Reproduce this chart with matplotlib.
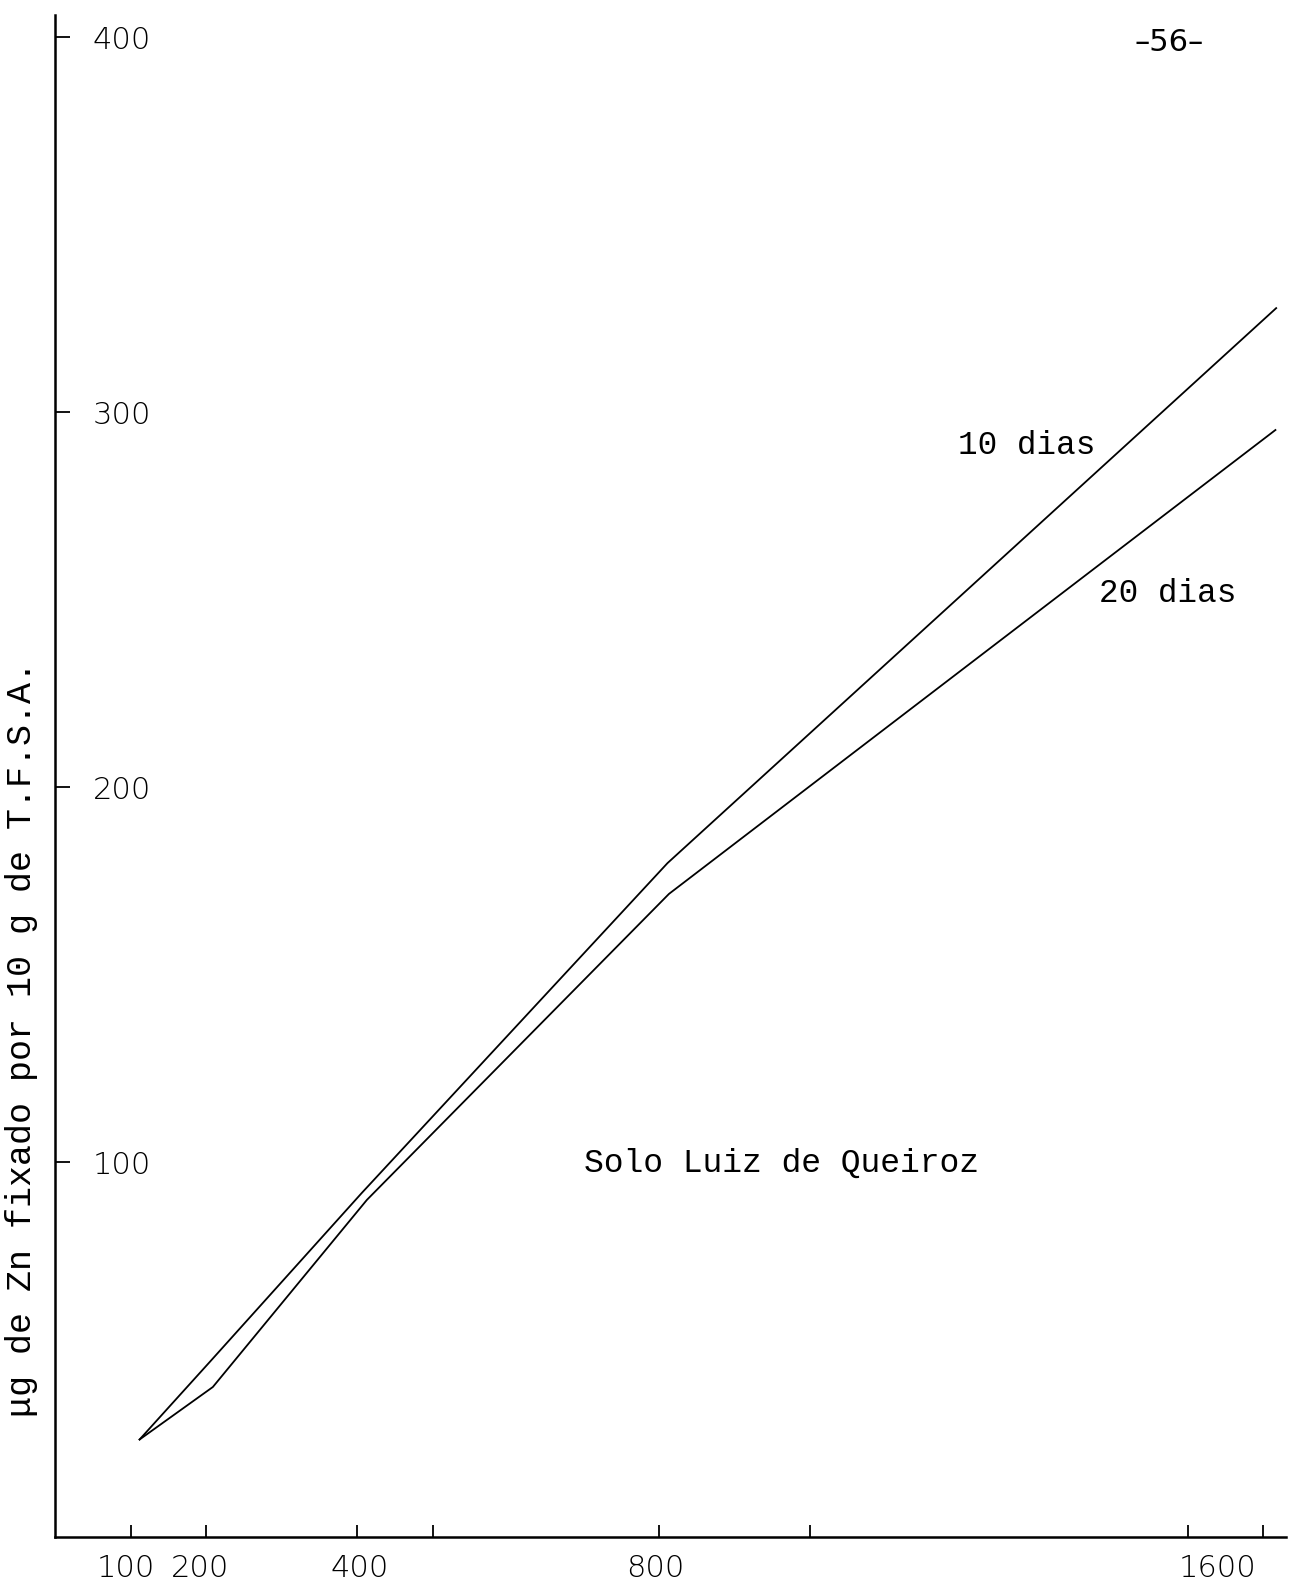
import matplotlib
matplotlib.use("Agg")
import matplotlib.pyplot as plt

# data
dose_10 = [112, 205, 406, 811, 1617]
zn_10 = [26.0, 46.7, 91.7, 179.7, 327.7]
dose_20 = [112, 209, 413, 813, 1616]
zn_20 = [26.0, 40.0, 89.9, 171.5, 295.2]

x_tick_vals = [100, 200, 400, 500, 800, 1000, 1500, 1600]
x_label_pos = [94, 192, 403, 795, 1540]
x_label_txt = ['100', '200', '400', '800', '1600']
y_tick_vals = [100, 200, 300, 400]
y_label_txt = ['100', '200', '300', '400']

fig = plt.figure(figsize=(12.89, 15.85), dpi=100)
ax = fig.add_axes([0.04267, 0.03028, 0.955, 0.96057])

ax.plot(dose_10, zn_10, color='black', lw=1.3)
ax.plot(dose_20, zn_20, color='black', lw=1.3)

ax.set_xlim(0, 1630)
ax.set_ylim(0, 406)

for s in ['top', 'right']:
    ax.spines[s].set_visible(False)
ax.spines['left'].set_linewidth(1.8)
ax.spines['bottom'].set_linewidth(1.8)

# x: tick marks (minor) and labels (major, no marks)
ax.set_xticks(x_tick_vals, minor=True)
ax.set_xticks(x_label_pos, x_label_txt)
ax.tick_params(axis='x', which='minor', direction='in', length=9, width=1.3)
ax.tick_params(axis='x', which='major', length=0, pad=12, labelsize=22)

# y: tick marks pointing in, labels on the inside
ax.set_yticks(y_tick_vals, y_label_txt)
ax.tick_params(axis='y', direction='in', length=11, width=1.3, pad=-27, labelsize=22)
for lab in ax.get_yticklabels():
    lab.set_horizontalalignment('left')
for lab in ax.get_xticklabels() + ax.get_yticklabels():
    lab.set_fontweight('light')

mono = 'Liberation Mono'
ax.text(1196, 291, '10 dias', family=mono, fontsize=23.5, ha='left', va='center')
ax.text(1383, 251.7, '20 dias', family=mono, fontsize=23.5, ha='left', va='center')
ax.text(700, 99.7, 'Solo Luiz de Queiroz', family=mono, fontsize=23.8, ha='left', va='center')

fig.text(0.017, 0.3445, 'μg de Zn fixado por 10 g de T.F.S.A.', family=mono,
         fontsize=25.2, rotation=90, ha='center', va='center')
fig.text(0.907, 0.973, '–56–', fontsize=22, ha='center', va='center')

fig.savefig('out.png', dpi=100, facecolor='white')
